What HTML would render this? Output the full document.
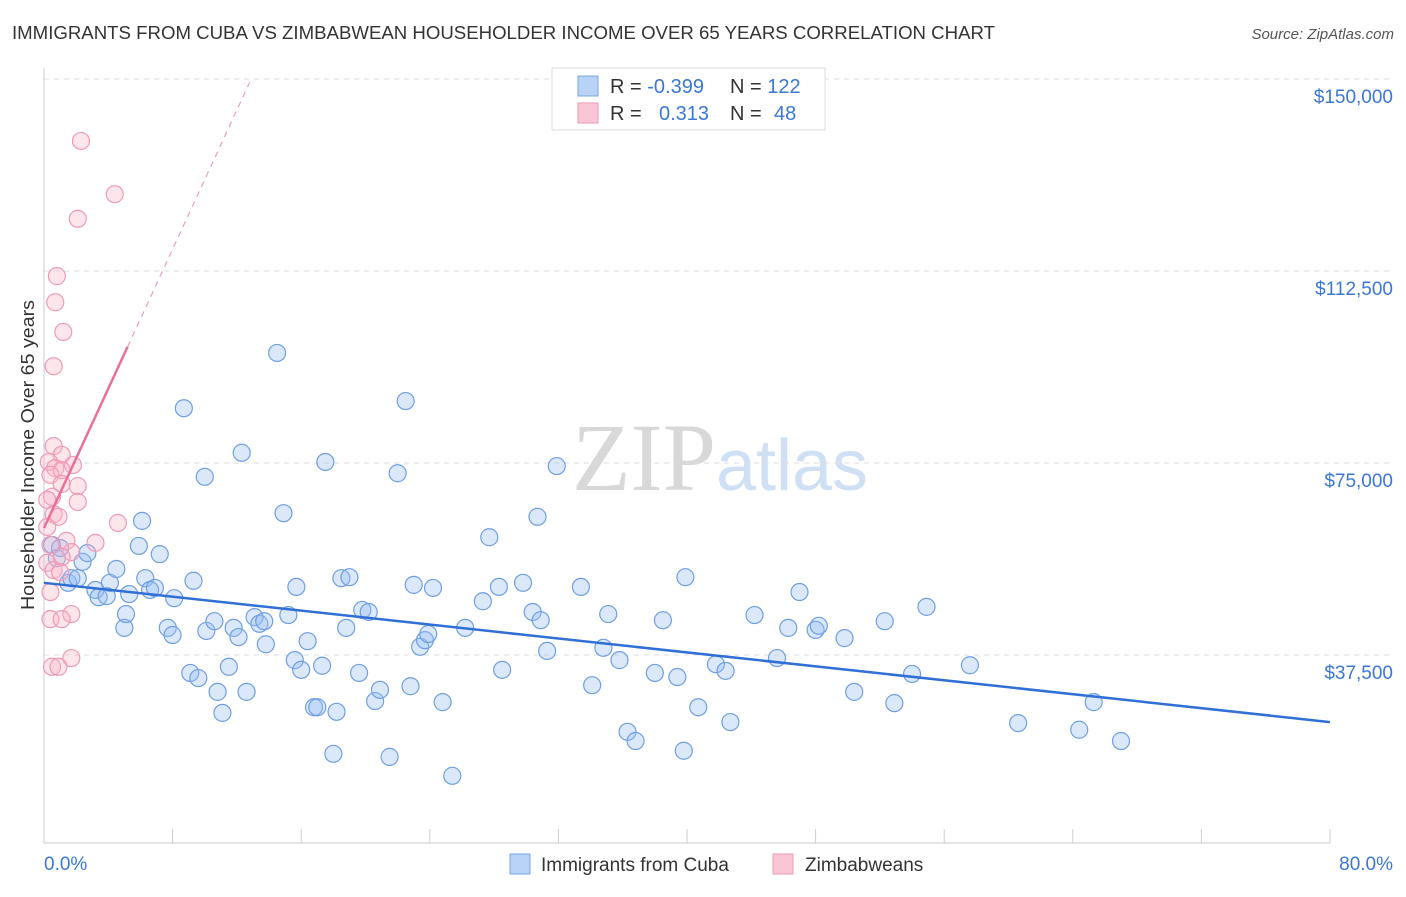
<!DOCTYPE html>
<html><head><meta charset="utf-8"><style>
body{margin:0;background:#fff;font-family:"Liberation Sans",sans-serif;}
svg text{font-family:"Liberation Sans",sans-serif;}
</style></head><body>
<svg id="chart" width="1406" height="892" xmlns="http://www.w3.org/2000/svg">
<text x="12" y="39" font-size="18" fill="#333" textLength="983" lengthAdjust="spacingAndGlyphs">IMMIGRANTS FROM CUBA VS ZIMBABWEAN HOUSEHOLDER INCOME OVER 65 YEARS CORRELATION CHART</text>
<text x="1394" y="39" font-size="15" fill="#555" text-anchor="end" font-style="italic">Source: ZipAtlas.com</text>
<text x="720" y="490" font-size="96" text-anchor="middle"><tspan fill="#d8d8d8" font-family="Liberation Serif">ZIP</tspan><tspan fill="#cfe0f5" font-size="72">atlas</tspan></text>
<g id="grid"></g>
<g id="axes"></g>
<g id="pts"></g>
<g id="trends"></g>
<g>
<rect x="552" y="68" width="273" height="62" fill="#fff" stroke="#ddd"/>
<rect x="578" y="76" width="20" height="20" fill="#b8d3f5" stroke="#7aa7e0"/>
<rect x="578" y="103" width="20" height="20" fill="#f9c6d5" stroke="#ef9ab5"/>
<text x="610" y="93" font-size="20" fill="#333">R = <tspan fill="#3a78d4">-0.399</tspan></text>
<text x="730" y="93" font-size="20" fill="#333">N = <tspan fill="#3a78d4">122</tspan></text>
<text x="610" y="120" font-size="20" fill="#333">R = <tspan fill="#3a78d4" x="659">0.313</tspan></text>
<text x="730" y="120" font-size="20" fill="#333">N = <tspan fill="#3a78d4" x="774">48</tspan></text>
</g>
<g>
<rect x="510" y="854" width="20" height="20" fill="#b8d3f5" stroke="#7aa7e0"/>
<text x="541" y="871" font-size="19" fill="#333">Immigrants from Cuba</text>
<rect x="773" y="854" width="20" height="20" fill="#f9c6d5" stroke="#ef9ab5"/>
<text x="805" y="871" font-size="19" fill="#333">Zimbabweans</text>
</g>
<text transform="translate(34,455) rotate(-90)" font-size="18" fill="#333" text-anchor="middle" textLength="310" lengthAdjust="spacingAndGlyphs">Householder Income Over 65 years</text>
</svg>
<script>
const blueX=[0.5,0.8,1.0,1.5,1.7,2.1,2.4,2.7,3.2,3.4,3.9,4.1,4.5,5.0,5.1,5.3,5.9,6.1,6.3,6.6,6.9,7.2,7.7,8.0,8.1,8.7,9.1,9.3,9.6,10.0,10.1,10.6,10.8,11.1,11.5,11.8,12.1,12.3,12.6,13.1,13.4,13.7,13.8,14.5,14.9,15.2,15.6,15.7,16.0,16.4,16.8,17.0,17.3,17.5,18.0,18.2,18.5,18.8,19.0,19.6,19.8,20.2,20.6,20.9,21.5,22.0,22.5,22.8,23.0,23.4,23.7,23.9,24.2,24.8,25.4,26.2,27.3,27.7,28.3,28.5,29.8,30.4,30.7,30.9,31.3,31.9,33.4,34.1,34.8,35.1,35.8,36.3,36.8,38.0,38.5,39.4,39.8,39.9,40.7,41.8,42.4,42.7,44.2,45.6,46.3,47.0,48.0,48.2,49.8,50.4,52.3,52.9,54.0,54.9,57.6,60.6,64.4,65.3,67.0];
const blueY=[59.0,56.4,58.4,51.6,52.5,52.5,55.7,57.4,50.2,48.8,49.0,51.6,54.3,42.8,45.5,49.4,58.8,63.7,52.5,50.2,50.6,57.2,42.8,41.4,48.6,85.7,34.0,52.0,33.0,72.3,42.2,44.1,30.3,26.2,35.2,42.8,41.0,77.0,30.3,44.9,43.6,44.1,39.6,96.5,65.2,45.3,36.5,50.8,34.6,40.2,27.3,27.3,35.4,75.2,18.2,26.4,52.5,42.8,52.7,34.0,46.3,45.9,28.5,30.7,17.6,73.0,87.1,31.4,51.2,39.1,40.4,41.6,50.6,28.3,13.9,42.8,48.0,60.5,50.8,34.6,51.6,45.9,64.5,44.3,38.3,74.4,50.8,31.6,38.9,45.5,36.5,22.5,20.7,34.0,44.3,33.2,18.8,52.7,27.3,35.7,34.4,24.4,45.3,36.9,42.8,49.8,42.4,43.2,40.8,30.3,44.1,28.1,33.8,46.9,35.5,24.2,22.9,28.3,20.7];
const pinkX=[2.3,4.4,2.1,0.8,0.7,1.2,0.6,0.6,1.1,0.3,0.7,1.8,1.1,0.4,1.1,2.1,0.5,0.2,2.1,0.6,0.9,4.6,0.2,1.4,3.2,0.4,1.7,1.1,0.2,0.6,1.0,0.4,1.7,0.4,1.1,1.7,0.5,0.9];
const pinkY=[137.9,127.5,122.7,111.5,106.4,100.6,93.9,78.3,76.6,75.2,74.0,74.6,73.6,72.7,70.9,70.5,68.4,67.8,67.4,65.0,64.5,63.3,62.5,59.8,59.4,59.0,57.6,56.6,55.5,54.1,53.7,49.8,45.5,44.5,44.5,36.9,35.2,35.2];
const yTicks=[37.5,75,112.5,150];
const yTickLabels=["$37,500","$75,000","$112,500","$150,000"];
const xTicks=[0,8,16,24,32,40,48,56,64,72,80];
const blueTrend=[[0,51.6],[80,24.4]];
const pinkTrend=[[0,62.3],[5.2,97.7]];
const pinkDash=[[5.2,97.7],[12.8,149.4]];

const NS="http://www.w3.org/2000/svg";
const X=v=>44+v/80*1286;
const Y=v=>847-v*5.12;
function mk(t,a,p){const e=document.createElementNS(NS,t);for(const k in a)e.setAttribute(k,a[k]);p.appendChild(e);return e;}
const grid=document.getElementById('grid'),axes=document.getElementById('axes'),pts=document.getElementById('pts'),tr=document.getElementById('trends');
yTicks.forEach((v,i)=>{
 const l=mk('line',{x1:44,x2:1394,y1:Y(v),y2:Y(v),stroke:'#ddd','stroke-dasharray':'5,5'},grid);
 
 
 const t=mk('text',{x:1393,y:Y(v)+24,'font-size':19,fill:'#3a78d4','text-anchor':'end'},grid);
 t.textContent=yTickLabels[i];
 
 
});
const ax=mk('line',{x1:44,x2:44,y1:68,y2:843,stroke:'#ccc'},axes);


const bx=mk('line',{x1:44,x2:1330,y1:843,y2:843,stroke:'#ccc'},axes);


xTicks.forEach(v=>{
 const l=mk('line',{x1:X(v),x2:X(v),y1:829,y2:843,stroke:'#ccc'},axes);
 
 
});
const xl0=mk('text',{x:44,y:870,'font-size':19,fill:'#3a78d4'},axes);xl0.textContent=xTicks[0].toFixed(1)+'%';


const xl1=mk('text',{x:1393,y:870,'font-size':19,fill:'#3a78d4','text-anchor':'end'},axes);xl1.textContent=xTicks[xTicks.length-1].toFixed(1)+'%';


blueX.forEach((v,i)=>{
 const c=mk('circle',{cx:X(v),cy:Y(blueY[i]),r:8.5,fill:'rgba(150,190,240,0.35)',stroke:'#6f9fe2','stroke-width':1.2},pts);
 
 
});
pinkX.forEach((v,i)=>{
 const c=mk('circle',{cx:X(v),cy:Y(pinkY[i]),r:8.5,fill:'rgba(248,180,200,0.35)',stroke:'#ef9ab5','stroke-width':1.2},pts);
 
 
});
const b=mk('line',{x1:X(blueTrend[0][0]),y1:Y(blueTrend[0][1]),x2:X(blueTrend[1][0]),y2:Y(blueTrend[1][1]),stroke:'#2f6fd6','stroke-width':2.5},tr);


const p=mk('line',{x1:X(pinkTrend[0][0]),y1:Y(pinkTrend[0][1]),x2:X(pinkTrend[1][0]),y2:Y(pinkTrend[1][1]),stroke:'#e8709a','stroke-width':2.5},tr);


const pd=mk('line',{x1:X(pinkDash[0][0]),y1:Y(pinkDash[0][1]),x2:X(pinkDash[1][0]),y2:Y(pinkDash[1][1]),stroke:'#eaa0b8','stroke-width':1.2,'stroke-dasharray':'6,5'},tr);


</script>
</body></html>
